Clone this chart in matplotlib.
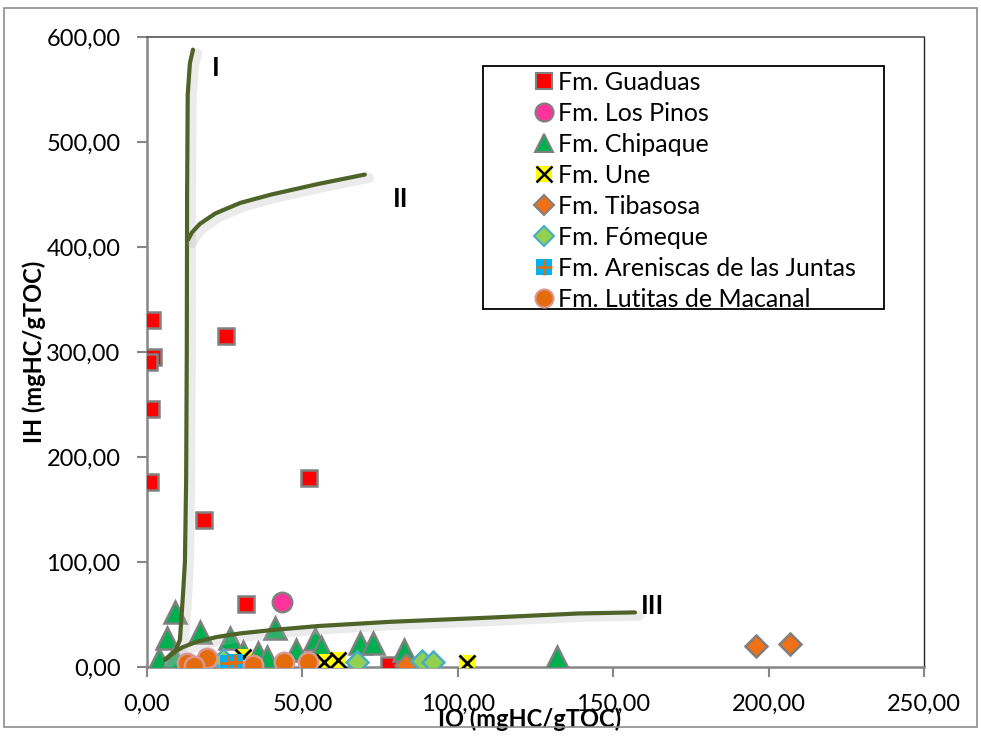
import matplotlib
matplotlib.use("Agg")
import matplotlib.pyplot as plt
import matplotlib.patheffects as pe
from matplotlib.legend_handler import HandlerTuple
from matplotlib.lines import Line2D
from matplotlib.patches import Rectangle
from matplotlib.ticker import FuncFormatter

plt.rcParams['font.family'] = ['Lato', 'DejaVu Sans']

# --- samples: oxygen index (IO) vs hydrogen index (IH) ---
guaduas_io = [1.5, 2.0, 0.7, 1.3, 1.0, 25.4, 18.3, 52.1, 31.9, 78.0]
guaduas_ih = [330, 295, 290, 246, 176, 315, 140, 180, 60, 2]

pinos_io = [43.4]
pinos_ih = [62]

chipaque_io = [3.9, 6.4, 9.0, 8.7, 17.0, 26.7, 31.0, 35.7, 38.5, 41.3,
               48.0, 54.0, 56.0, 68.5, 72.8, 82.7, 132.0]
chipaque_ih = [8, 28, 52, 10, 33, 28, 14, 13, 10, 37,
               16, 27, 19, 23, 23, 16, 10]

une_io = [103.0, 57.0, 61.5, 31.0, 44.0]
une_ih = [4, 5, 7, 10, 1]

tibasosa_io = [196.0, 207.0, 83.3]
tibasosa_ih = [20, 22, 2]

fomeque_io = [88.5, 92.0, 67.5, 24.5]
fomeque_ih = [6, 5, 5, 7]

juntas_io = [28.3, 15.5, 26.0]
juntas_ih = [5, 1, 4]

macanal_io = [12.9, 19.3, 15.0, 34.1, 44.1, 51.8]
macanal_ih = [4, 9, 1, 2, 5, 5]

# --- kerogen type boundaries (I, II, III) ---
type1_io = [14.8, 13.8, 13.1, 12.9, 12.8, 12.6, 12.2, 11.6, 10.6, 9.0, 7.0, 5.8]
type1_ih = [588, 575, 545, 450, 300, 180, 100, 70, 26, 14, 9, 7]

type2_io = [13.2, 14.5, 17.0, 22.0, 30.0, 40.0, 55.0, 70.1]
type2_ih = [407, 414, 422, 432, 442, 450, 460, 469]

type3_io = [5.8, 8.0, 11.6, 16.0, 22.5, 30.0, 39.6, 55.0, 78.0, 110.0, 139.0, 157.0]
type3_ih = [7, 13, 19, 24, 28.6, 32, 35, 39, 43, 47, 51, 52]

type_labels = ["I", "II", "III"]
type_label_io = [22.0, 81.7, 162.5]
type_label_ih = [570, 446, 58]

x_ticks = [0, 50, 100, 150, 200, 250]
y_ticks = [0, 100, 200, 300, 400, 500, 600]

fig = plt.figure(figsize=(9.81, 7.41), dpi=100)
ax = fig.add_axes([147 / 981, 1 - 667 / 741, 777 / 981, 630 / 741])

# outer chart frame
fig.patches.append(Rectangle((4 / 981, 1 - 727 / 741), 973 / 981, 719 / 741,
                             transform=fig.transFigure, fill=False,
                             edgecolor='#8c8c8c', linewidth=1.2, zorder=0))

GRAY = '#808080'
ms_sq = 12

ax.plot(guaduas_io, guaduas_ih, 's', ms=ms_sq, mfc='#ff0000', mec=GRAY, mew=1.8, zorder=3)
ax.plot(pinos_io, pinos_ih, 'o', ms=14, mfc='#ff3399', mec=GRAY, mew=1.8, zorder=3)
ax.plot(chipaque_io, chipaque_ih, '^', ms=16, mfc='#00b050', mec=GRAY, mew=1.8, zorder=3)

curve_fx = [pe.SimpleLineShadow(offset=(3, -2.5), shadow_color='#b0b0b0', alpha=0.25,
                                linewidth=7), pe.Normal()]
for cx, cy in [(type1_io, type1_ih), (type2_io, type2_ih), (type3_io, type3_ih)]:
    ax.plot(cx, cy, '-', color='#4f6228', lw=3, solid_capstyle='round',
            zorder=3.5, path_effects=curve_fx)

ax.plot(une_io, une_ih, 's', ms=ms_sq, mfc='#ffff00', mec='#ffff00', mew=0, zorder=4)
ax.plot(une_io, une_ih, 'x', ms=11, mec='black', mew=2, zorder=4.1)
ax.plot(tibasosa_io, tibasosa_ih, 'D', ms=11, mfc='#f07016', mec=GRAY, mew=1.8, zorder=4.2)
ax.plot(fomeque_io, fomeque_ih, 'D', ms=11, mfc='#92d050', mec='#4bacc6', mew=1.8, zorder=4.3)
ax.plot(juntas_io, juntas_ih, 's', ms=ms_sq, mfc='#00b0f0', mec='#00b0f0', mew=0, zorder=4.4)
ax.plot(juntas_io, juntas_ih, '+', ms=12, mec='#e46c0a', mew=2, zorder=4.5)
ax.plot(macanal_io, macanal_ih, 'o', ms=14, mfc='#e46c0a', mec='#d99694', mew=1.8, zorder=4.6)

for lab, lx, ly in zip(type_labels, type_label_io, type_label_ih):
    ax.text(lx, ly, lab, fontsize=19, fontweight='bold', ha='center', va='center', zorder=5)

ax.set_xlim(0, 250)
ax.set_ylim(0, 600)
ax.set_xticks(x_ticks)
ax.set_yticks(y_ticks)
fmt = FuncFormatter(lambda v, p: f"{v:.2f}".replace('.', ','))
ax.xaxis.set_major_formatter(fmt)
ax.yaxis.set_major_formatter(fmt)
ax.tick_params(axis='both', labelsize=17, color='#868686', width=1.5, length=7,
               direction='out')
ax.tick_params(axis='x', pad=12)
ax.tick_params(axis='y', pad=12)

for side in ['left', 'bottom']:
    ax.spines[side].set_color('#868686')
    ax.spines[side].set_linewidth(1.8)
ax.spines['top'].set_color('#555555')
ax.spines['right'].set_color('#222222')
ax.spines['top'].set_linewidth(1.2)
ax.spines['right'].set_linewidth(1.0)

ax.set_xlabel('IO (mgHC/gTOC)', fontsize=17, fontweight='bold')
ax.set_ylabel('IH (mgHC/gTOC)', fontsize=17, fontweight='bold')
ax.xaxis.set_label_coords(0.493, -0.064)
ax.yaxis.set_label_coords(-0.130, 0.5)

# legend: frame box, then the entries without their own frame
ax.add_patch(Rectangle((336 / 777, 358 / 630), 401 / 777, 243 / 630,
                       transform=ax.transAxes, facecolor='white',
                       edgecolor='black', linewidth=1.3, zorder=6))

h_guad = Line2D([], [], ls='', marker='s', ms=11, mfc='#ff0000', mec=GRAY, mew=1.5)
h_pin = Line2D([], [], ls='', marker='o', ms=13, mfc='#ff3399', mec=GRAY, mew=1.5)
h_chi = Line2D([], [], ls='', marker='^', ms=13, mfc='#00b050', mec=GRAY, mew=1.5)
h_une = (Line2D([], [], ls='', marker='s', ms=12, mfc='#ffff00', mec='#ffff00', mew=0),
         Line2D([], [], ls='', marker='x', ms=11, mec='black', mew=1.8))
h_tib = Line2D([], [], ls='', marker='D', ms=10, mfc='#f07016', mec=GRAY, mew=1.5)
h_fom = Line2D([], [], ls='', marker='D', ms=10, mfc='#92d050', mec='#4bacc6', mew=1.5)
h_jun = (Line2D([], [], ls='', marker='s', ms=12, mfc='#00b0f0', mec='#00b0f0', mew=0),
         Line2D([], [], ls='', marker='+', ms=12, mec='#e46c0a', mew=1.8))
h_mac = Line2D([], [], ls='', marker='o', ms=13, mfc='#e46c0a', mec='#d99694', mew=1.5)

names = ['Fm. Guaduas', 'Fm. Los Pinos', 'Fm. Chipaque', 'Fm. Une', 'Fm. Tibasosa',
         'Fm. Fómeque', 'Fm. Areniscas de las Juntas', 'Fm. Lutitas de Macanal']
leg = ax.legend([h_guad, h_pin, h_chi, h_une, h_tib, h_fom, h_jun, h_mac], names,
                loc='upper left', bbox_to_anchor=((536 - 147) / 777, (667 - 71) / 630),
                fontsize=18, frameon=False,
                handlelength=0.6, handletextpad=0.3, labelspacing=0.32,
                borderpad=0, borderaxespad=0,
                handler_map={tuple: HandlerTuple(ndivide=1, pad=0)})
leg.set_zorder(7)

fig.savefig('out.png', dpi=100)
